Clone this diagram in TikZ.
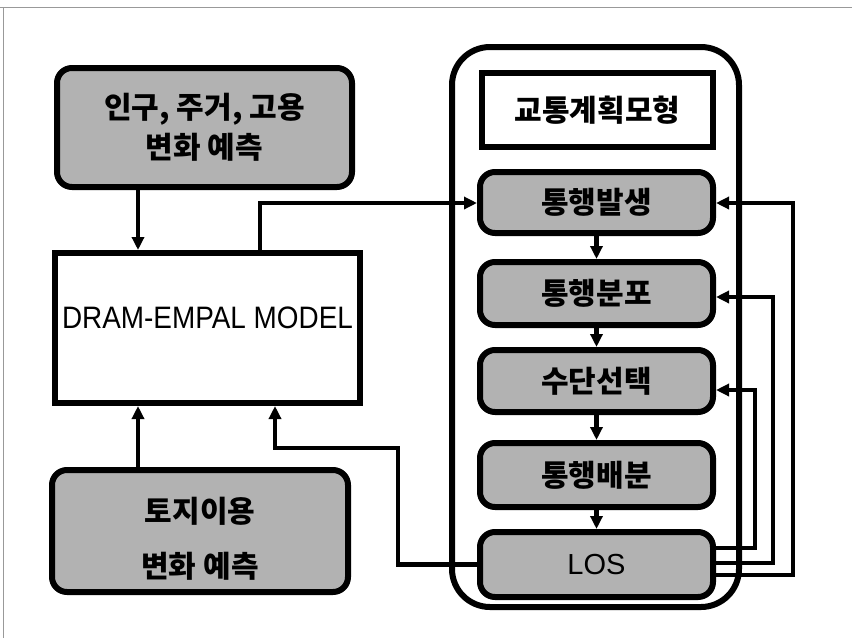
\documentclass[tikz,border=0pt]{standalone}
\usepackage{fontspec}
\setmainfont{Liberation Sans}
\newfontfamily\kr{Noto Sans CJK KR Black}
\newfontfamily\krb{Noto Sans CJK KR}
\usetikzlibrary{arrows.meta,calc}
\definecolor{halftone}{gray}{0.7}
\definecolor{scanline}{gray}{0.6}
\tikzset{
  stagebox/.style={draw, line width=6pt, rounded corners=15pt, fill=halftone,
    align=center, font=\kr\fontsize{30}{40}\selectfont},
  plainbox/.style={draw, line width=6pt, fill=white},
  frame/.style={draw, line width=6pt, rounded corners=38pt, fill=white},
  arr/.style={line width=4.5pt, -{Triangle[length=13pt,width=12pt]}},
  fb/.style={line width=4pt, -{Triangle[length=13pt,width=12pt]}},
}
\begin{document}
\begin{tikzpicture}[x=1pt,y=-1pt]
\useasboundingbox (0,0) rectangle (852,638);
% scanned page edges
\draw[scanline, line width=1pt] (0,7) -- (852,7);
\draw[scanline, line width=1pt] (3,7) -- (3,638);

% transport model frame
\node[frame, minimum width=287pt, minimum height=560pt] (model) at (595.5,327) {};

% left column
\node[stagebox, minimum width=295pt, minimum height=119pt] (pop) at (204.5,127.5)
  {인구, 주거, 고용\\변화 예측};
\node[plainbox, minimum width=305pt, minimum height=150pt] (dram) at (207.5,328) {};
\node[font=\fontsize{31}{33}\selectfont] (dramtext) at ($(dram.center)+(0,-10)$)
  {\scalebox{0.9}[1]{DRAM-EMPAL MODEL}};
\node[stagebox, minimum width=296pt, minimum height=122pt] (land) at (200,531) {};
\node[align=center, font=\kr\fontsize{30}{55}\selectfont] (landtext)
  at ($(land.center)+(0,8)$) {토지이용\\변화 예측};

% right column
\node[plainbox, minimum width=231pt, minimum height=74pt,
  font=\krb\bfseries\fontsize{30}{32}\selectfont] (title) at (597.5,110) {교통계획모형};
\node[stagebox, minimum width=233pt, minimum height=61pt] (gen) at (596.5,202.5) {통행발생};
\node[stagebox, minimum width=233pt, minimum height=63pt] (dist) at (596.5,293.5) {통행분포};
\node[stagebox, minimum width=233pt, minimum height=62pt] (mode) at (596.5,381) {수단선택};
\node[stagebox, minimum width=233pt, minimum height=64pt] (assign) at (596.5,475) {통행배분};
\node[stagebox, minimum width=233pt, minimum height=65pt,
  font=\fontsize{29}{31}\selectfont] (los) at (596.5,564.5) {LOS};

% routing coordinates
\coordinate (xTop) at (138,0);
\coordinate (xOut) at (260,0);
\coordinate (xIn) at (275,0);
\coordinate (bendL) at (398,448);
\coordinate (xA) at (755,0);
\coordinate (xB) at (773,0);
\coordinate (xC) at (793,0);
\coordinate (yA) at (0,548);
\coordinate (yB) at (0,563);
\coordinate (yC) at (0,575);
\coordinate (yGen) at (0,203);
\coordinate (yDist) at (0,297);
\coordinate (yMode) at (0,390);

% left-side connectors
\draw[arr] (xTop |- pop.south) -- (xTop |- dram.north);
\draw[arr] (xTop |- land.north) -- (xTop |- dram.south);
\draw[arr] (xOut |- dram.north) |- (gen.west |- yGen);
\draw[arr] (los.west) -| (bendL) -| (xIn |- dram.south);

% model chain
\draw[arr] (gen.south) -- (dist.north);
\draw[arr] (dist.south) -- (mode.north);
\draw[arr] (mode.south) -- (assign.north);
\draw[arr] (assign.south) -- (los.north);

% LOS feedback loops
\draw[fb] (los.east |- yA) -| (xA |- yMode) -- (mode.east |- yMode);
\draw[fb] (los.east |- yB) -| (xB |- yDist) -- (dist.east |- yDist);
\draw[fb] (los.east |- yC) -| (xC |- yGen) -- (gen.east |- yGen);
\end{tikzpicture}
\end{document}
